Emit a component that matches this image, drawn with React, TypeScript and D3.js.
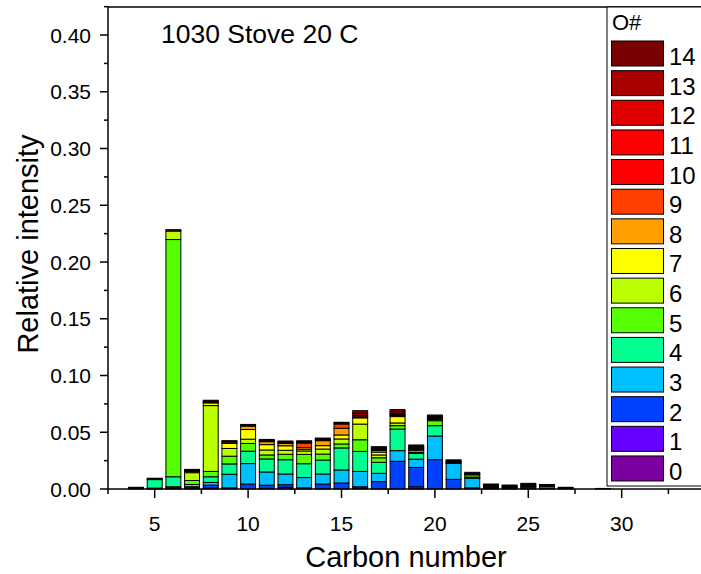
import React, { useEffect, useRef } from "react";
import * as d3 from "d3";

// Carbon numbers (x categories)
const carbons = [4, 5, 6, 7, 8, 9, 10, 11, 12, 13, 14, 15, 16, 17, 18, 19, 20, 21, 22, 23, 24, 25, 26, 27, 28, 29];

// Relative intensity per oxygen number, one value per carbon number
const O0 = [0, 0, 0, 0, 0, 0, 0, 0, 0, 0, 0, 0, 0, 0, 0, 0, 0, 0, 0, 0, 0, 0, 0, 0, 0, 0];
const O1 = [0, 0, 0, 0.0005, 0.0008, 0, 0, 0.0005, 0.0015, 0, 0, 0, 0.0008, 0, 0, 0.002, 0, 0, 0, 0, 0, 0, 0, 0, 0, 0];
const O2 = [0, 0.0003, 0.001, 0.001, 0.0026, 0.001, 0.0044, 0.0029, 0.0023, 0.001, 0.0044, 0.0053, 0.0012, 0.0065, 0.0244, 0.017, 0.0258, 0.0085, 0.001, 0.0008, 0.001, 0.001, 0.0008, 0, 0, 0];
const O3 = [0.0005, 0.0005, 0.001, 0.0005, 0.0024, 0.012, 0.018, 0.0116, 0.0094, 0.0091, 0.0088, 0.0115, 0.0135, 0.0073, 0.0094, 0.0073, 0.0209, 0.0141, 0.0085, 0.0008, 0.0008, 0.001, 0.0015, 0.0008, 0, 0];
const O4 = [0, 0.0075, 0.0088, 0.002, 0.005, 0.0091, 0.0109, 0.0115, 0.0126, 0.0122, 0.0123, 0.0194, 0.0176, 0.0097, 0.019, 0.005, 0.0091, 0.0005, 0.001, 0, 0, 0, 0.0005, 0, 0, 0.0005];
const O5 = [0, 0.0004, 0.209, 0.0035, 0.0047, 0.0068, 0.0068, 0.0035, 0.0048, 0.0082, 0.0053, 0.0035, 0.0103, 0.004, 0.003, 0.001, 0.0044, 0.0008, 0.002, 0, 0, 0, 0, 0, 0, 0];
const O6 = [0, 0, 0.0075, 0.0069, 0.058, 0.0068, 0.0038, 0.0044, 0.0035, 0.003, 0.0044, 0.0044, 0.0138, 0.0025, 0.0024, 0.0015, 0.001, 0, 0.0004, 0, 0, 0, 0, 0, 0, 0];
const O7 = [0, 0, 0, 0.001, 0.0024, 0.0044, 0.0085, 0.0047, 0.004, 0.0015, 0.003, 0.0035, 0.0055, 0.0025, 0.0056, 0.001, 0.001, 0, 0, 0, 0, 0, 0, 0, 0, 0];
const O8 = [0, 0, 0, 0.0005, 0.0005, 0.0012, 0.003, 0.0026, 0.002, 0.0015, 0.0044, 0.0059, 0.0008, 0.0015, 0.001, 0.0008, 0, 0, 0, 0, 0, 0, 0, 0, 0, 0];
const O9 = [0, 0, 0, 0, 0, 0, 0, 0.0005, 0.0005, 0.004, 0.0005, 0.0038, 0, 0.001, 0.0008, 0, 0, 0, 0, 0, 0, 0, 0, 0, 0, 0];
const O10 = [0, 0, 0, 0, 0, 0, 0, 0, 0, 0, 0, 0, 0, 0, 0, 0, 0, 0, 0, 0, 0, 0, 0, 0, 0, 0];
const O11 = [0, 0, 0, 0, 0, 0, 0, 0, 0, 0, 0, 0, 0, 0, 0, 0, 0, 0, 0, 0, 0, 0, 0, 0, 0, 0];
const O12 = [0, 0, 0, 0, 0, 0, 0, 0, 0, 0.0005, 0, 0, 0.0012, 0.0005, 0.0012, 0.0008, 0.0008, 0, 0, 0.0008, 0, 0.001, 0, 0, 0, 0];
const O13 = [0.0005, 0, 0, 0.0006, 0.0008, 0.0005, 0.0006, 0.0006, 0.0007, 0.0007, 0.0008, 0.0006, 0.0018, 0.0008, 0.0015, 0.0012, 0.001, 0.0008, 0.0008, 0.001, 0.0008, 0.001, 0.0006, 0, 0, 0];
const O14 = [0.0005, 0.0008, 0.0012, 0.0008, 0.001, 0.0008, 0.0009, 0.0009, 0.001, 0.0008, 0.001, 0.0009, 0.0025, 0.001, 0.0017, 0.0012, 0.0012, 0.001, 0.001, 0.001, 0.0009, 0.001, 0.0006, 0.0007, 0, 0];

const oxygenKeys = ["0", "1", "2", "3", "4", "5", "6", "7", "8", "9", "10", "11", "12", "13", "14"];
const oxygenColors = [
  "#7c00a0", "#6600ff", "#0040ff", "#00bfff", "#00ff90", "#55ff00", "#bbff00", "#ffff00",
  "#ffa000", "#ff4000", "#ff0000", "#ff0000", "#e00000", "#a80000", "#780000",
];

const yTicks = [0, 0.05, 0.1, 0.15, 0.2, 0.25, 0.3, 0.35, 0.4];
const yMinor = [0.025, 0.075, 0.125, 0.175, 0.225, 0.275, 0.325, 0.375, 0.425];
const xTicks = [5, 10, 15, 20, 25, 30];
const xMinor = [2.5, 7.5, 12.5, 17.5, 22.5, 27.5, 32.5];

const W = 701;
const H = 574;

const App = () => {
  const svgRef = useRef(null);

  useEffect(() => {
    const left = 108, right = 700, top = 7, bottom = 489;
    const font = "Arial, 'Liberation Sans', sans-serif";

    d3.select(svgRef.current).selectAll("*").remove();
    const svg = d3.select(svgRef.current).attr("width", W).attr("height", H).style("font-family", font);

    const x = d3.scaleLinear().domain([2.5, 2.5 + (right - left) / 18.68]).range([left, right]);
    const y = d3.scaleLinear().domain([0, 0.4247]).range([bottom, top]);

    const allSeries = [O0, O1, O2, O3, O4, O5, O6, O7, O8, O9, O10, O11, O12, O13, O14];
    const rows = carbons.map((c, i) => {
      const r: any = { carbon: c };
      oxygenKeys.forEach((k, j) => (r[k] = allSeries[j][i]));
      return r;
    });
    const layers = d3.stack().keys(oxygenKeys)(rows);
    const bw = x(0.8) - x(0);

    // Bars
    const g = svg.append("g");
    layers.forEach((layer, li) => {
      g.selectAll(null)
        .data(layer.filter((d) => d[1] - d[0] > 0))
        .join("rect")
        .attr("x", (d: any) => x(d.data.carbon) - bw / 2)
        .attr("y", (d) => y(d[1]))
        .attr("width", bw)
        .attr("height", (d) => y(d[0]) - y(d[1]))
        .attr("fill", oxygenColors[li])
        .attr("stroke", "#000")
        .attr("stroke-width", 1);
    });

    // Frame top line
    svg.append("line").attr("x1", left).attr("x2", right + 1).attr("y1", top).attr("y2", top)
      .attr("stroke", "#000").attr("stroke-width", 1.5);

    // Y axis
    svg.append("line").attr("x1", left).attr("x2", left).attr("y1", top).attr("y2", bottom)
      .attr("stroke", "#000").attr("stroke-width", 1.5);
    svg.append("g").selectAll("line").data(yTicks).join("line")
      .attr("x1", left - 8).attr("x2", left).attr("y1", (d) => y(d)).attr("y2", (d) => y(d))
      .attr("stroke", "#000").attr("stroke-width", 1.5);
    svg.append("g").selectAll("line").data(yMinor).join("line")
      .attr("x1", left - 4).attr("x2", left).attr("y1", (d) => y(d)).attr("y2", (d) => y(d))
      .attr("stroke", "#000").attr("stroke-width", 1.5);
    svg.append("g").selectAll("text").data(yTicks).join("text")
      .attr("x", left - 17).attr("y", (d) => y(d) + 7.5)
      .attr("text-anchor", "end").style("font-size", "21px")
      .text((d) => d.toFixed(2));

    // X axis
    svg.append("line").attr("x1", left).attr("x2", right + 1).attr("y1", bottom).attr("y2", bottom)
      .attr("stroke", "#000").attr("stroke-width", 1.5);
    svg.append("g").selectAll("line").data(xTicks).join("line")
      .attr("x1", (d) => x(d)).attr("x2", (d) => x(d)).attr("y1", bottom).attr("y2", bottom + 9)
      .attr("stroke", "#000").attr("stroke-width", 1.5);
    svg.append("g").selectAll("line").data(xMinor).join("line")
      .attr("x1", (d) => x(d)).attr("x2", (d) => x(d)).attr("y1", bottom).attr("y2", bottom + 5)
      .attr("stroke", "#000").attr("stroke-width", 1.5);
    svg.append("g").selectAll("text").data(xTicks).join("text")
      .attr("x", (d) => x(d)).attr("y", 531)
      .attr("text-anchor", "middle").style("font-size", "21px")
      .text((d) => d);

    // Axis titles
    svg.append("text").attr("x", 406).attr("y", 567).attr("text-anchor", "middle")
      .style("font-size", "29px").text("Carbon number");
    svg.append("text").attr("transform", "translate(38,244) rotate(-90)").attr("text-anchor", "middle")
      .style("font-size", "29px").text("Relative intensity");

    // Annotation
    svg.append("text").attr("x", 161).attr("y", 43).style("font-size", "26.5px").text("1030 Stove 20 C");

    // Legend
    const lg = svg.append("g");
    lg.append("rect").attr("x", 607).attr("y", top).attr("width", 96).attr("height", 479)
      .attr("fill", "#fff").attr("stroke", "#000").attr("stroke-width", 1);
    lg.append("text").attr("x", 612).attr("y", 30).style("font-size", "22px").text("O#");
    const legendItems = oxygenKeys.slice().reverse();
    const ly = d3.scaleBand().domain(legendItems).range([39.5, 39.5 + 29.64 * 15]);
    lg.selectAll("rect.sw").data(legendItems).join("rect")
      .attr("class", "sw")
      .attr("x", 611.5).attr("y", (d) => ly(d) + 1.5)
      .attr("width", 52).attr("height", 25)
      .attr("fill", (d) => oxygenColors[+d])
      .attr("stroke", "#000").attr("stroke-width", 1);
    lg.selectAll("text.lb").data(legendItems).join("text")
      .attr("class", "lb")
      .attr("x", 669).attr("y", (d) => ly(d) + 25.5)
      .style("font-size", "24px")
      .text((d) => d);
  }, []);

  return (
    <div style={{ position: "absolute", left: 0, top: 0 }}>
      <svg ref={svgRef}></svg>
    </div>
  );
};

export default App;
